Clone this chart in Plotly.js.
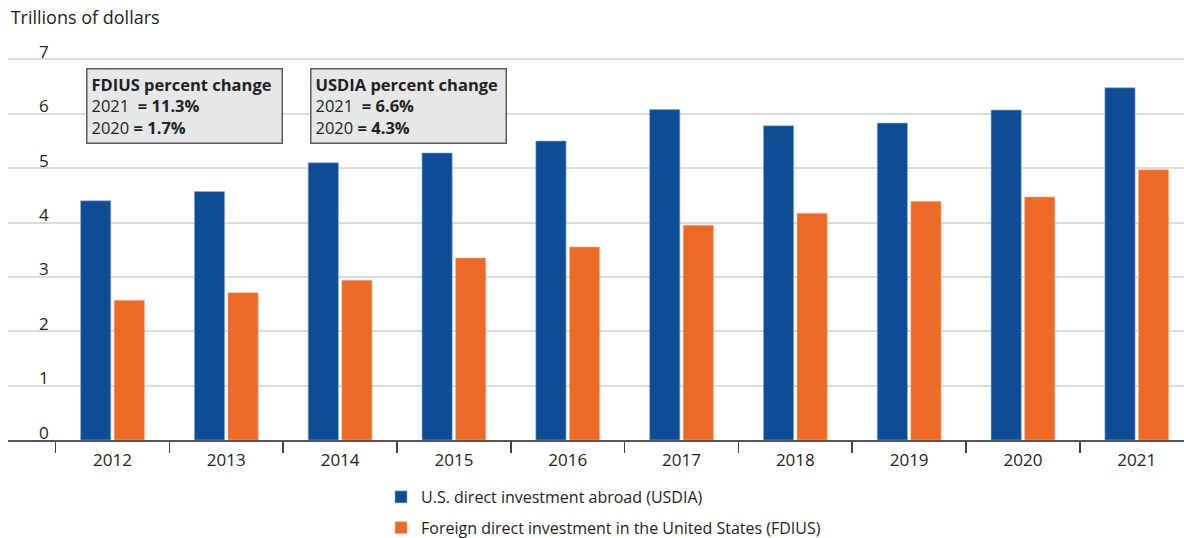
<!DOCTYPE html>
<html>
<head>
<meta charset="utf-8">
<script src="https://cdn.plot.ly/plotly-3.0.1.min.js"></script>
<style>html,body{margin:0;padding:0;background:#fff;}#chart{width:1184px;height:538px;}</style>
</head>
<body>
<div id="chart"></div>
<script>
const years = ['2012','2013','2014','2015','2016','2017','2018','2019','2020','2021'];
const usdia = [4.40, 4.57, 5.10, 5.28, 5.50, 6.08, 5.78, 5.83, 6.07, 6.48];
const fdius = [2.57, 2.71, 2.94, 3.35, 3.55, 3.95, 4.17, 4.39, 4.47, 4.97];
const seriesNames = ['U.S. direct investment abroad (USDIA)', 'Foreign direct investment in the United States (FDIUS)'];
const yTicks = [0, 1, 2, 3, 4, 5, 6, 7];
const yTitle = 'Trillions of dollars';
const fdiusBoxTitle = 'FDIUS percent change';
const fdiusChangeYears = ['2021', '2020'];
const fdiusChangeValues = ['11.3%', '1.7%'];
const usdiaBoxTitle = 'USDIA percent change';
const usdiaChangeYears = ['2021', '2020'];
const usdiaChangeValues = ['6.6%', '4.3%'];

const FONT = '"Open Sans", "Noto Sans", sans-serif';
const TXT = '#231f20';

function boxText(title, yrs, vals) {
  let s = '<b>' + title + '</b>';
  yrs.forEach((y, i) => {
    s += '<br>' + y + (i === 0 ? ' &nbsp;' : ' ') + '<b>= ' + vals[i] + '</b>';
  });
  return s;
}

const traces = [
  {type: 'bar', x: years, y: usdia, name: seriesNames[0], legendgroup: 'a',
   marker: {color: '#0e4d96', line: {color: '#8fb0d6', width: 0.6}}, hoverinfo: 'x+y'},
  {type: 'bar', x: years, y: fdius, name: seriesNames[1], legendgroup: 'b',
   marker: {color: '#ec6a25', line: {color: '#f6b48f', width: 0.6}}, hoverinfo: 'x+y'}
];

const boxCommon = {
  xref: 'paper', yref: 'paper', xanchor: 'left', yanchor: 'top', align: 'left', valign: 'middle',
  showarrow: false, bgcolor: '#e6e7e8', bordercolor: '#5a5a5a', borderwidth: 1.5, borderpad: 4,
  width: 186, height: 65, font: {family: FONT, size: 16.5, color: TXT}
};

const yLabelAnns = yTicks.map(v => ({
  xref: 'paper', yref: 'y', x: 0.0247, y: v, xanchor: 'left', yanchor: 'middle', yshift: 8,
  showarrow: false, text: String(v), font: {family: FONT, size: 17, color: TXT}
}));

const layout = {
  width: 1184, height: 538,
  margin: {l: 8, r: 0, t: 36, b: 98, pad: 0, autoexpand: false},
  paper_bgcolor: '#ffffff', plot_bgcolor: '#ffffff',
  font: {family: FONT, color: TXT},
  barmode: 'group', bargap: 0.41, bargroupgap: 0.1,
  title: {text: yTitle, xref: 'container', yref: 'container', x: 0.009, xanchor: 'left',
          y: 0.968, yanchor: 'middle', font: {family: FONT, size: 18, color: TXT}},
  xaxis: {type: 'category', range: [-0.918, 9.415], showgrid: false, zeroline: false,
          showline: true, linecolor: '#555555', linewidth: 2,
          ticks: 'outside', tickson: 'boundaries', ticklen: 11, tickwidth: 1.5, tickcolor: '#444444',
          ticklabelstandoff: 4,
          tickfont: {family: FONT, size: 17, color: TXT}, fixedrange: true},
  yaxis: {range: [0, 7.432], tickvals: yTicks, showticklabels: false,
          showgrid: true, gridcolor: '#dcdcdc', gridwidth: 2, zeroline: false, showline: false,
          ticks: '', fixedrange: true},
  showlegend: true,
  legend: {x: 0.3172, xanchor: 'left', y: -0.099, yanchor: 'top', orientation: 'v',
           traceorder: 'grouped', tracegroupgap: 7,
           font: {family: FONT, size: 16, color: TXT}, bgcolor: 'rgba(0,0,0,0)'},
  annotations: [
    Object.assign({}, boxCommon, {x: 0.0663, y: 0.921, text: boxText(fdiusBoxTitle, fdiusChangeYears, fdiusChangeValues)}),
    Object.assign({}, boxCommon, {x: 0.2568, y: 0.921, text: boxText(usdiaBoxTitle, usdiaChangeYears, usdiaChangeValues)})
  ].concat(yLabelAnns)
};

Plotly.newPlot('chart', traces, layout, {displayModeBar: false, staticPlot: true});
</script>
</body>
</html>
